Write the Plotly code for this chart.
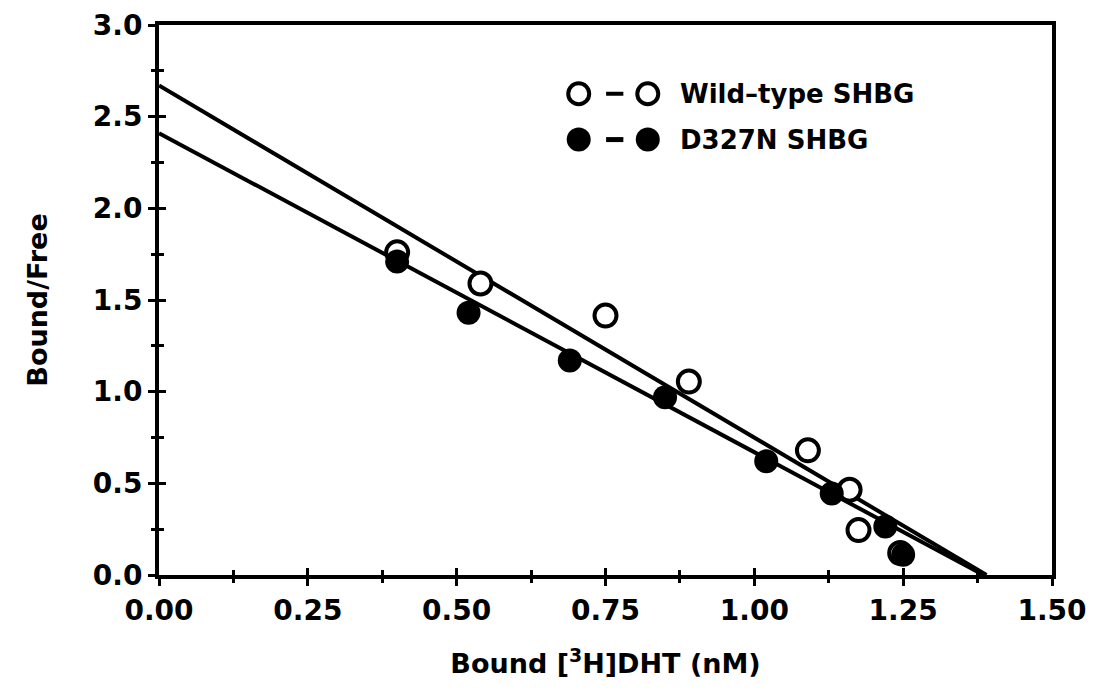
import plotly.graph_objects as go

# ---- data ----
wt_x = [0.40, 0.54, 0.75, 0.89, 1.09, 1.16, 1.175, 1.245]
wt_y = [1.76, 1.59, 1.415, 1.055, 0.68, 0.465, 0.245, 0.12]
mut_x = [0.40, 0.52, 0.69, 0.85, 1.02, 1.13, 1.22, 1.25]
mut_y = [1.71, 1.43, 1.17, 0.97, 0.62, 0.445, 0.265, 0.11]

# fitted Scatchard lines: y-intercept and x-intercept
wt_fit_x = [0.0, 1.39]
wt_fit_y = [2.67, 0.0]
mut_fit_x = [0.0, 1.385]
mut_fit_y = [2.41, 0.0]

legend_labels = ["Wild–type SHBG", "D327N SHBG"]

x_ticks = [0.00, 0.25, 0.50, 0.75, 1.00, 1.25, 1.50]
y_ticks = [0.0, 0.5, 1.0, 1.5, 2.0, 2.5, 3.0]

FONT = "DejaVu Sans"
BLACK = "black"

fig = go.Figure()

fig.add_trace(go.Scatter(x=wt_fit_x, y=wt_fit_y, mode="lines",
                         line=dict(color=BLACK, width=4), showlegend=False, hoverinfo="skip"))
fig.add_trace(go.Scatter(x=mut_fit_x, y=mut_fit_y, mode="lines",
                         line=dict(color=BLACK, width=4), showlegend=False, hoverinfo="skip"))
fig.add_trace(go.Scatter(x=wt_x, y=wt_y, mode="markers",
                         marker=dict(symbol="circle", size=22, color="white",
                                     line=dict(color=BLACK, width=4)),
                         showlegend=False))
fig.add_trace(go.Scatter(x=mut_x, y=mut_y, mode="markers",
                         marker=dict(symbol="circle", size=24, color=BLACK,
                                     line=dict(color=BLACK, width=0)),
                         showlegend=False))

# ---- custom legend (layout positions in data coordinates) ----
leg_mk_x = [0.705, 0.821]
leg_dash_x = [0.751, 0.780]
leg_text_x = 0.872
leg_row_y = [2.625, 2.375]

fig.add_trace(go.Scatter(x=leg_dash_x, y=[leg_row_y[0]] * 2, mode="lines",
                         line=dict(color=BLACK, width=4), showlegend=False, hoverinfo="skip"))
fig.add_trace(go.Scatter(x=leg_dash_x, y=[leg_row_y[1]] * 2, mode="lines",
                         line=dict(color=BLACK, width=5), showlegend=False, hoverinfo="skip"))
fig.add_trace(go.Scatter(x=leg_mk_x, y=[leg_row_y[0]] * 2, mode="markers",
                         marker=dict(symbol="circle", size=21, color="white",
                                     line=dict(color=BLACK, width=4)),
                         showlegend=False, hoverinfo="skip"))
fig.add_trace(go.Scatter(x=leg_mk_x, y=[leg_row_y[1]] * 2, mode="markers",
                         marker=dict(symbol="circle", size=24, color=BLACK),
                         showlegend=False, hoverinfo="skip"))
for lab, yy in zip(legend_labels, leg_row_y):
    fig.add_annotation(x=leg_text_x, y=yy, xref="x", yref="y", text=lab,
                       showarrow=False, xanchor="left", yanchor="middle",
                       font=dict(family=FONT, size=26, color=BLACK, weight="bold"))

# invisible trace that creates the overlay axes used for the inward half of the ticks
fig.add_trace(go.Scatter(x=[0.5], y=[1.0], xaxis="x2", yaxis="y2", mode="markers",
                         marker=dict(opacity=0), showlegend=False, hoverinfo="skip"))

tickfont = dict(family=FONT, size=28, color=BLACK, weight="bold")
titlefont = dict(family=FONT, size=27, color=BLACK, weight="bold")

fig.update_layout(
    width=1096, height=700,
    margin=dict(l=159, r=44, t=25, b=125, autoexpand=False),
    plot_bgcolor="white", paper_bgcolor="white",
    showlegend=False,
    xaxis=dict(range=[0, 1.5], tickvals=x_ticks, ticktext=[f"{v:.2f}" for v in x_ticks],
               showline=True, linewidth=4, linecolor=BLACK, mirror=True,
               ticks="outside", ticklen=7, tickwidth=3, tickcolor=BLACK,
               minor=dict(ticks="outside", ticklen=4, tickwidth=3, tickcolor=BLACK, dtick=0.125),
               showgrid=False, zeroline=False, tickfont=tickfont, automargin=False,
               title=dict(text="Bound [<sup>3</sup>H]DHT (nM)", font=titlefont, standoff=30)),
    yaxis=dict(range=[0, 3.0], tickvals=y_ticks, ticktext=[f"{v:.1f}" for v in y_ticks],
               showline=True, linewidth=4, linecolor=BLACK, mirror=True,
               ticks="outside", ticklen=7, tickwidth=3, tickcolor=BLACK,
               minor=dict(ticks="outside", ticklen=4, tickwidth=3, tickcolor=BLACK, dtick=0.25),
               showgrid=False, zeroline=False, tickfont=tickfont, automargin=False,
               title=dict(text="Bound/Free", font=titlefont, standoff=38)),
    xaxis2=dict(overlaying="x", side="bottom", anchor="y2",
                range=[0, 1.5], tickvals=x_ticks, showticklabels=False,
                ticks="inside", ticklen=7, tickwidth=3, tickcolor=BLACK,
                minor=dict(ticks="inside", ticklen=5, tickwidth=3, tickcolor=BLACK, dtick=0.125),
                showline=False, showgrid=False, zeroline=False, automargin=False),
    yaxis2=dict(overlaying="y", side="left", anchor="x2",
                range=[0, 3.0], tickvals=y_ticks, showticklabels=False,
                ticks="inside", ticklen=7, tickwidth=3, tickcolor=BLACK,
                minor=dict(ticks="inside", ticklen=5, tickwidth=3, tickcolor=BLACK, dtick=0.25),
                showline=False, showgrid=False, zeroline=False, automargin=False),
)

fig.write_html("out.html", config={"displayModeBar": False},
               post_script="document.body.style.margin='0';document.body.style.padding='0';")
